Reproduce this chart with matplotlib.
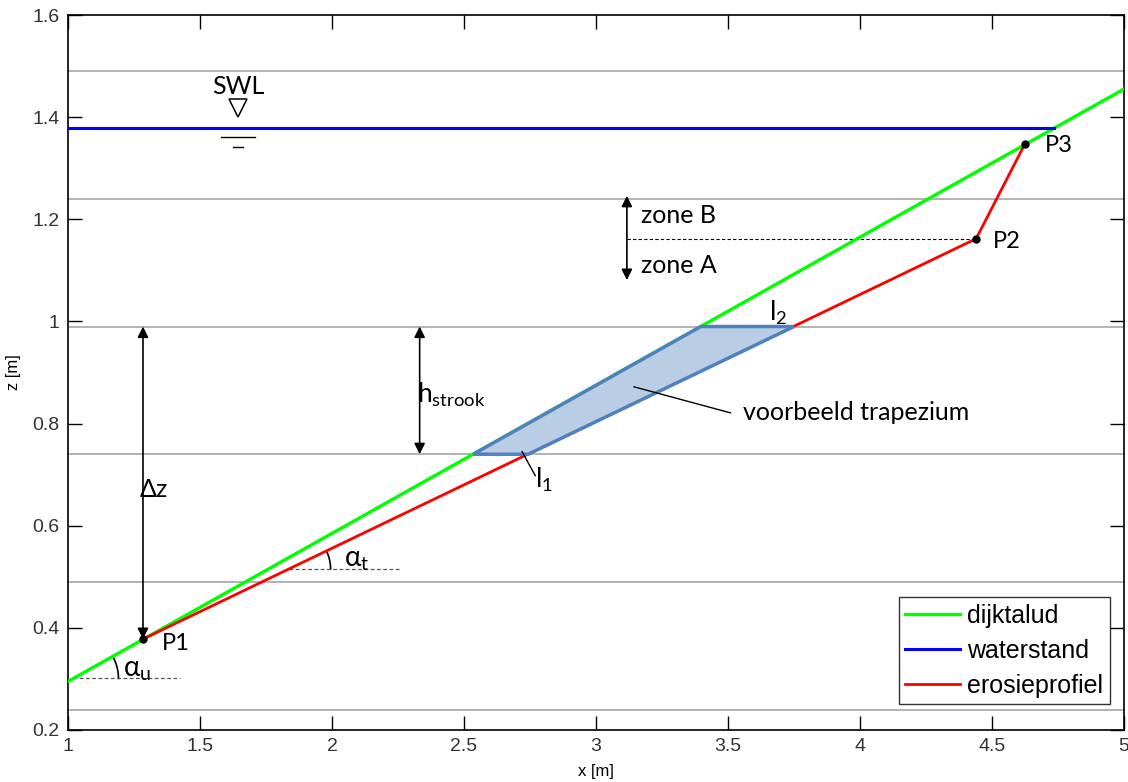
import numpy as np
import matplotlib.pyplot as plt

# profiel data (x [m], z [m])
dijk_x = [1.0, 5.0]
dijk_z = [0.295, 1.455]
water_x = [1.0, 4.735]
water_z = [1.378, 1.378]
eros_x = [1.284, 4.44, 4.625]
eros_z = [0.378, 1.162, 1.348]
punt_namen = ['P1', 'P2', 'P3']
strook_z = [0.24, 0.49, 0.74, 0.99, 1.24, 1.49]
trap_x = [2.535, 2.743, 3.75, 3.397]
trap_z = [0.74, 0.74, 0.99, 0.99]

plt.rcParams['font.family'] = ['Liberation Sans', 'DejaVu Sans']
ann = ['Lato', 'DejaVu Sans']

fig = plt.figure(figsize=(11.28, 7.82), dpi=100)
ax = fig.add_axes([68/1128, 52/782, 1056/1128, 715/782])
ax.set_xlim(1, 5)
ax.set_ylim(0.2, 1.6)
sx = 1056 / 4.0      # px per m
sy = 715 / 1.4

for zs in strook_z:
    ax.plot([1, 5], [zs, zs], color='#a6a6a6', lw=1.2, zorder=1)

ax.plot(dijk_x, dijk_z, color='#00ff00', lw=2.4, label='dijktalud', zorder=4)
ax.plot(water_x, water_z, color='#0000ff', lw=2.2, label='waterstand', zorder=4)
ax.plot(eros_x, eros_z, color='#ff0000', lw=2.0, label='erosieprofiel', zorder=4)
ax.plot(eros_x, eros_z, 'o', color='k', ms=5, zorder=6)

ax.fill(trap_x, trap_z, facecolor='#b9cde5', edgecolor='#4f81bd', lw=2.5, zorder=5)

offs = [(0.07, -0.008), (0.065, -0.006), (0.075, -0.003)]
for nm, px, pz, (dx, dz) in zip(punt_namen, eros_x, eros_z, offs):
    ax.text(px + dx, pz + dz, nm, fontsize=17, family=ann, va='center', ha='left')

# pijlen
def dubbelpijl(x, z0, z1):
    ax.annotate('', xy=(x, z0), xytext=(x, z1),
                arrowprops=dict(arrowstyle='<|-|>', color='k', lw=1.2,
                                mutation_scale=16, shrinkA=0, shrinkB=0))

dubbelpijl(1.284, 0.99, eros_z[0])
dubbelpijl(2.332, 0.99, 0.74)
dubbelpijl(3.117, 1.246, 1.081)
ax.plot([3.117, eros_x[1]], [eros_z[1], eros_z[1]], 'k--', lw=0.8, dashes=(3, 2))

ax.text(1.272, 0.67, '\u0394z', fontsize=18, family=ann, va='center')
ax.text(2.322, 0.856, r'$\mathregular{h_{strook}}$', fontsize=19, family=ann, va='center')
ax.text(3.17, 1.208, 'zone B', fontsize=18, family=ann, va='center')
ax.text(3.17, 1.11, 'zone A', fontsize=18, family=ann, va='center')
ax.text(3.556, 0.821, 'voorbeeld trapezium', fontsize=18, family=ann, va='center')
ax.plot([3.144, 3.509], [0.872, 0.821], color='k', lw=1, zorder=6)
ax.text(2.77, 0.69, r'$\mathregular{l_1}$', fontsize=19, family=ann, va='center')
ax.plot([2.72, 2.77], [0.745, 0.698], color='k', lw=1, zorder=6)
ax.text(3.655, 1.016, r'$\mathregular{l_2}$', fontsize=19, family=ann, va='center')

# SWL symbool
ax.text(1.645, 1.438, 'SWL', fontsize=18, family=ann, ha='center', va='bottom')
ax.plot([1.645], [1.418], marker='v', ms=13, mfc='white', mec='k', mew=1.1, ls='none')
ax.plot([1.581, 1.707], [1.362, 1.362], color='k', lw=1)
ax.plot([1.624, 1.662], [1.341, 1.341], color='k', lw=1)

# hoeken
def hoek(x0, z0, slope, r, label, tx, tz, x_end):
    ang = np.arctan(slope * sy / sx)
    t = np.linspace(0, ang, 30)
    ax.plot(x0 + r * np.cos(t) / sx, z0 + r * np.sin(t) / sy, color='k', lw=1.2)
    ax.plot([x0, x_end], [z0, z0], color='#555555', lw=0.9, dashes=(3, 2))
    ax.text(tx, tz, r'$\mathregular{\alpha_' + label + '}$', fontsize=20,
            family=ann, va='center')

slope_d = (dijk_z[1] - dijk_z[0]) / (dijk_x[1] - dijk_x[0])
slope_e = (eros_z[1] - eros_z[0]) / (eros_x[1] - eros_x[0])
z_u = 0.301
hoek(dijk_x[0] + (z_u - dijk_z[0]) / slope_d, z_u, slope_d, 45, 'u', 1.21, 0.318, 1.423)
z_t = 0.515
hoek(eros_x[0] + (z_t - eros_z[0]) / slope_e, z_t, slope_e, 42, 't', 2.045, 0.532, 2.262)

ax.set_xticks(np.arange(1, 5.01, 0.5))
ax.set_xticklabels(['1', '1.5', '2', '2.5', '3', '3.5', '4', '4.5', '5'])
ax.set_yticks(np.arange(0.2, 1.61, 0.2))
ax.set_yticklabels(['0.2', '0.4', '0.6', '0.8', '1', '1.2', '1.4', '1.6'])
ax.tick_params(direction='in', length=10, width=1, top=True, right=True,
               labelsize=14, labelcolor='#333333', pad=6)
for s in ax.spines.values():
    s.set_linewidth(1.2)
ax.set_xlabel('x [m]', fontsize=12, labelpad=6)
ax.set_ylabel('z [m]', fontsize=12, labelpad=8)

leg = ax.legend(loc='lower right', bbox_to_anchor=(0.9865, 0.036), fontsize=18,
                frameon=True, fancybox=False, edgecolor='k', handlelength=2.2,
                handletextpad=0.3, borderaxespad=0, labelspacing=0.45,
                borderpad=0.25)
leg.get_frame().set_linewidth(1)

fig.savefig('out.png', dpi=100)
